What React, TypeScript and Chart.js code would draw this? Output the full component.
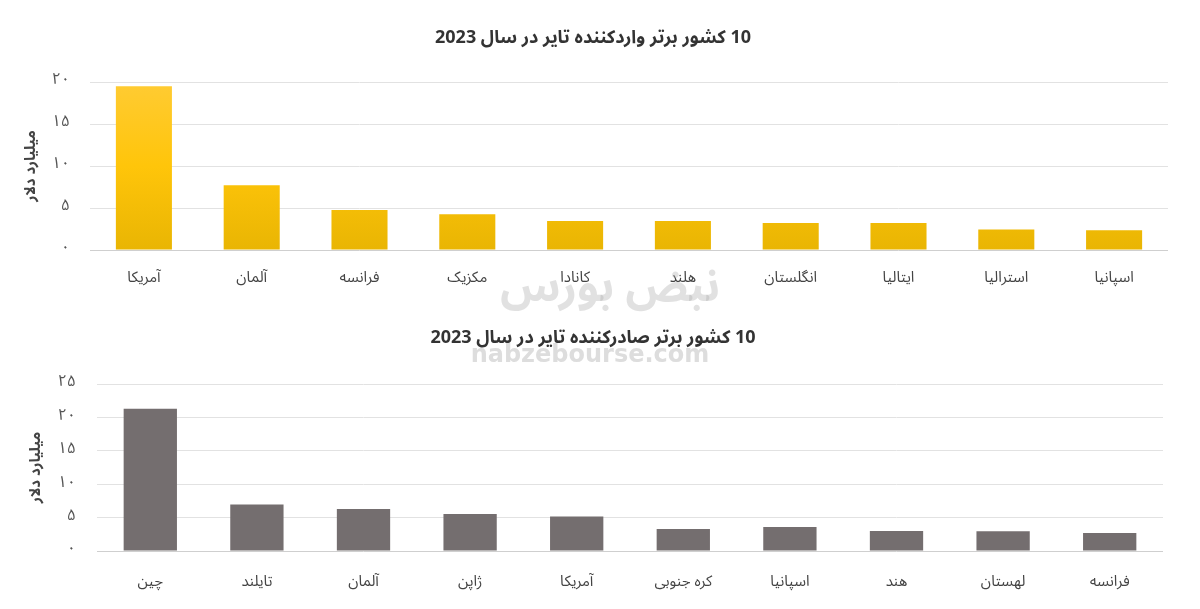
import React, { useEffect, useRef } from "react";
import { Chart, registerables } from "chart.js";

Chart.register(...registerables);

const importTitle = "10 کشور برتر واردکننده تایر در سال 2023";
const exportTitle = "10 کشور برتر صادرکننده تایر در سال 2023";
const yAxisTitle = "میلیارد دلار";

const importCountries = ["آمریکا", "آلمان", "فرانسه", "مکزیک", "کانادا", "هلند", "انگلستان", "ایتالیا", "استرالیا", "اسپانیا"];
const importValues = [19.5, 7.7, 4.75, 4.25, 3.45, 3.45, 3.2, 3.2, 2.45, 2.35];
const importTicks = ["۰", "۵", "۱۰", "۱۵", "۲۰"];

const exportCountries = ["چین", "تایلند", "آلمان", "ژاپن", "آمریکا", "کره جنوبی", "اسپانیا", "هند", "لهستان", "فرانسه"];
const exportValues = [21.3, 6.95, 6.3, 5.55, 5.15, 3.3, 3.6, 3.0, 2.95, 2.7];
const exportTicks = ["۰", "۵", "۱۰", "۱۵", "۲۰", "۲۵"];

const FONT = "'Noto Sans Arabic', 'Vazirmatn', 'DejaVu Sans', sans-serif";

type Cfg = {
  title: string;
  labels: string[];
  values: number[];
  ticks: string[];
  max: number;
  gradient: boolean;
  color: string;
  pad: { left: number; right: number; top: number };
  yWidth: number;
  xHeight: number;
  yTickPad: number;
  xTickPad: number;
  yTitlePad: number;
  barPct: number;
  titleX: number;
  titleY: number;
};

function makeChart(canvas: HTMLCanvasElement, c: Cfg) {
  const titlePlugin = {
    id: "rtlTitle",
    afterDraw(chart: any) {
      const ctx = chart.ctx;
      ctx.save();
      ctx.direction = "rtl";
      ctx.textAlign = "center";
      ctx.textBaseline = "middle";
      ctx.fillStyle = "#333333";
      ctx.font = `bold 18px ${FONT}`;
      ctx.fillText(c.title, c.titleX, c.titleY);
      ctx.restore();
    },
  };
  return new Chart(canvas, {
    type: "bar",
    data: {
      labels: c.labels,
      datasets: [
        {
          data: c.values,
          backgroundColor: (ctx: any) => {
            if (!c.gradient) return c.color;
            const area = ctx.chart.chartArea;
            if (!area) return c.color;
            const g = ctx.chart.ctx.createLinearGradient(0, area.top, 0, area.bottom);
            g.addColorStop(0, "#FFCB33");
            g.addColorStop(0.5, "#FFC50A");
            g.addColorStop(1, "#E9B503");
            return g;
          },
          categoryPercentage: 1,
          barPercentage: c.barPct,
        },
      ],
    },
    options: {
      responsive: false,
      animation: false,
      layout: { padding: { left: c.pad.left, right: c.pad.right, top: c.pad.top, bottom: 0 } },
      plugins: { legend: { display: false }, tooltip: { enabled: false }, title: { display: false } },
      scales: {
        x: {
          grid: { display: false },
          border: { display: false },
          ticks: {
            color: "#444444",
            font: { family: FONT, size: 15 },
            padding: c.xTickPad,
            maxRotation: 0,
          },
          afterFit: (s: any) => {
            s.height = c.xHeight;
          },
        },
        y: {
          min: 0,
          max: c.max,
          border: { display: false },
          grid: {
            drawTicks: false,
            color: (ctx: any) => (ctx.tick && ctx.tick.value === 0 ? "#cfcfcf" : "#e2e2e2"),
            lineWidth: 1,
          },
          ticks: {
            stepSize: 5,
            padding: c.yTickPad,
            color: "#555555",
            font: { family: FONT, size: 16 },
            callback: (_v: any, i: number) => c.ticks[i],
          },
          title: {
            display: true,
            text: yAxisTitle,
            color: "#444444",
            font: { family: FONT, size: 15, weight: "bold" },
            padding: { top: c.yTitlePad, bottom: 0 },
          },
          afterFit: (s: any) => {
            s.width = c.yWidth;
          },
        },
      },
    },
    plugins: [titlePlugin],
  } as any);
}

export default function App() {
  const topRef = useRef<HTMLCanvasElement>(null);
  const botRef = useRef<HTMLCanvasElement>(null);

  useEffect(() => {
    const a = makeChart(topRef.current!, {
      title: importTitle,
      labels: importCountries,
      values: importValues,
      ticks: importTicks,
      max: 20,
      gradient: true,
      color: "#FFC50A",
      pad: { left: 10, right: 32, top: 82 },
      yWidth: 80,
      xHeight: 50,
      yTickPad: 20,
      xTickPad: 13,
      yTitlePad: 14,
      barPct: 0.52,
      titleX: 593,
      titleY: 40,
    });
    const b = makeChart(botRef.current!, {
      title: exportTitle,
      labels: exportCountries,
      values: exportValues,
      ticks: exportTicks,
      max: 25,
      gradient: false,
      color: "#746E6F",
      pad: { left: 10, right: 37, top: 84 },
      yWidth: 87,
      xHeight: 58,
      yTickPad: 21,
      xTickPad: 16,
      yTitlePad: 19,
      barPct: 0.5,
      titleX: 593,
      titleY: 40,
    });
    return () => {
      a.destroy();
      b.destroy();
    };
  }, []);

  return (
    <div style={{ position: "absolute", left: 0, top: 0, width: 1200, height: 609, background: "#ffffff", overflow: "hidden" }}>
      <canvas ref={topRef} width={1200} height={300} style={{ position: "absolute", left: 0, top: 0 }} />
      <canvas ref={botRef} width={1200} height={309} style={{ position: "absolute", left: 0, top: 300 }} />
      <div
        style={{
          position: "absolute",
          left: 480,
          top: 262,
          width: 260,
          textAlign: "center",
          direction: "rtl",
          fontFamily: FONT,
          fontWeight: "bold",
          fontSize: 44,
          lineHeight: "50px",
          color: "rgba(170,170,170,0.35)",
          pointerEvents: "none",
        }}
      >
        نبض بورس
      </div>
      <div
        style={{
          position: "absolute",
          left: 470,
          top: 340,
          width: 240,
          textAlign: "center",
          fontFamily: "'DejaVu Sans', sans-serif",
          fontWeight: "bold",
          fontSize: 24,
          lineHeight: "28px",
          color: "rgba(170,170,170,0.4)",
          pointerEvents: "none",
        }}
      >
        nabzebourse.com
      </div>
    </div>
  );
}
